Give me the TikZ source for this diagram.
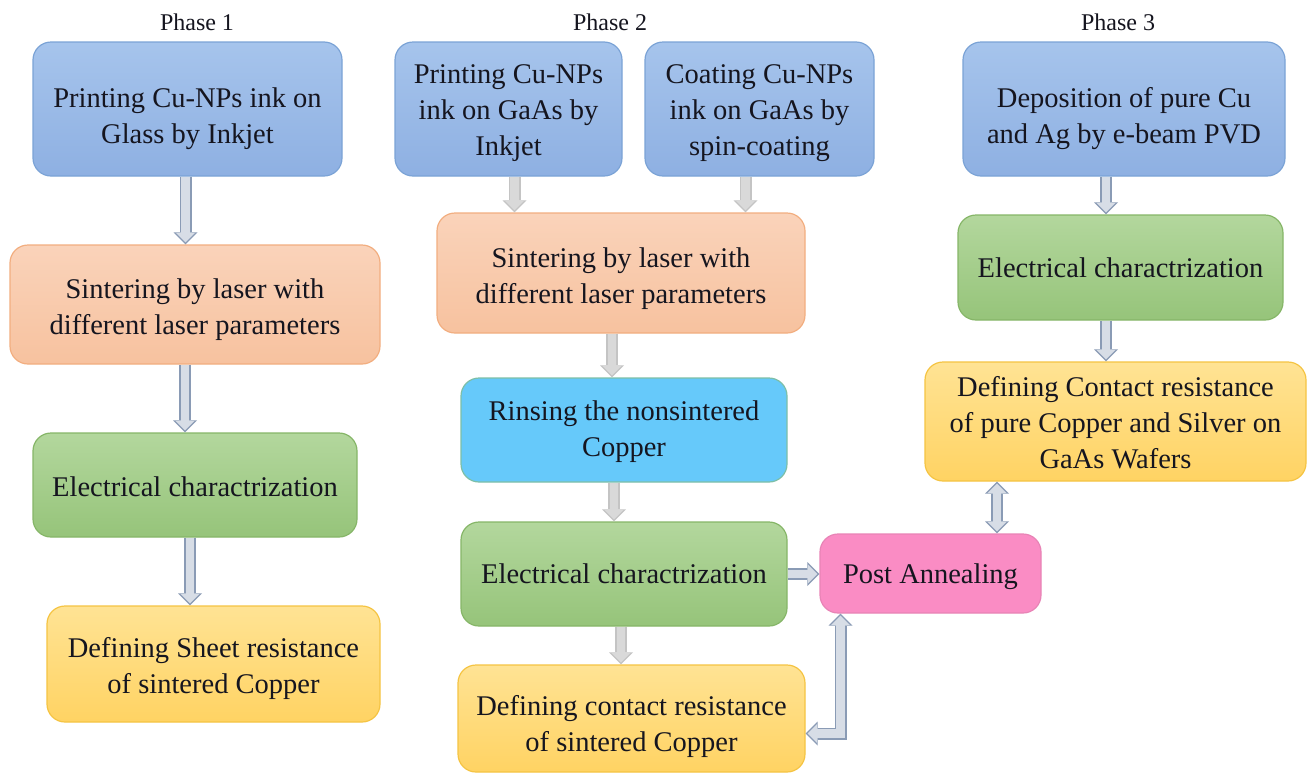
\documentclass[tikz,border=0pt]{standalone}
\usepackage{fontspec}
\setmainfont{Liberation Serif}
\usetikzlibrary{arrows.meta,calc}
\definecolor{txt}{HTML}{15151F}
\definecolor{bluetop}{HTML}{A6C4EC}
\definecolor{bluebot}{HTML}{8EB0E2}
\definecolor{blueln}{HTML}{7BA3D6}
\definecolor{orgtop}{HTML}{FAD3BA}
\definecolor{orgbot}{HTML}{F7C29F}
\definecolor{orgln}{HTML}{F2AE80}
\definecolor{grntop}{HTML}{B3D79D}
\definecolor{grnbot}{HTML}{96C47A}
\definecolor{grnln}{HTML}{86B668}
\definecolor{yeltop}{HTML}{FFE394}
\definecolor{yelbot}{HTML}{FFD363}
\definecolor{yelln}{HTML}{F5C443}
\definecolor{cyanf}{HTML}{66C9FA}
\definecolor{cyanln}{HTML}{7DBFA8}
\definecolor{pinkf}{HTML}{FA8CC4}
\definecolor{pinkln}{HTML}{E884B6}
\definecolor{arrln}{HTML}{8A9BB5}
\definecolor{arrfill}{HTML}{D7DDE6}
\definecolor{grayln}{HTML}{C4C4C4}
\definecolor{grayfill}{HTML}{D9D9D9}
\newcommand\sd[1]{\rule{0pt}{#1}}
\tikzset{
  box/.style={rounded corners=18pt, line width=1.2pt, align=center, text=txt,
    font=\fontsize{28.5}{36}\selectfont, inner sep=0pt},
  bluebox/.style={box, draw=blueln, top color=bluetop, bottom color=bluebot},
  orgbox/.style={box, draw=orgln, top color=orgtop, bottom color=orgbot},
  grnbox/.style={box, draw=grnln, top color=grntop, bottom color=grnbot},
  yelbox/.style={box, draw=yelln, top color=yeltop, bottom color=yelbot},
  cyanbox/.style={box, draw=cyanln, fill=cyanf},
  pinkbox/.style={box, draw=pinkln, fill=pinkf},
  phase/.style={text=txt, font=\fontsize{24}{28}\selectfont},
  arrout/.style={line width=12pt, draw=#1,
    -{Triangle[width=24pt,length=12pt,line width=0pt]}},
  arrin/.style={line width=8.6pt, draw=#1, shorten >=2pt,
    -{Triangle[width=19pt,length=9.5pt,line width=0pt]}},
  darrout/.style={line width=12pt, draw=#1,
    {Triangle[width=24pt,length=12pt,line width=0pt]}-{Triangle[width=24pt,length=12pt,line width=0pt]}},
  darrin/.style={line width=8.6pt, draw=#1, shorten >=2pt, shorten <=2pt,
    {Triangle[width=19pt,length=9.5pt,line width=0pt]}-{Triangle[width=19pt,length=9.5pt,line width=0pt]}},
}
\newcommand\blk[3]{\draw[arrout=#1] #3; \draw[arrin=#2] #3;}
\newcommand\dblk[3]{\draw[darrout=#1,miter limit=10] #3; \draw[darrin=#2,miter limit=10] #3;}
\begin{document}
\begin{tikzpicture}[x=1pt,y=-1pt]
\useasboundingbox (0,0) rectangle (1311,774);
\fill[white] (0,0) rectangle (1311,774);
% phase labels
\node[phase] (p1) at (197,22) {Phase 1};
\node[phase] (p2) at (610,22) {Phase 2};
\node[phase] (p3) at (1118,22) {Phase 3};
% phase 1
\node[bluebox, minimum width=309pt, minimum height=134pt] (A1) at (187.5,109) {\sd{40pt}Printing Cu-NPs ink on\\Glass by Inkjet};
\node[orgbox, minimum width=370pt, minimum height=119pt] (A2) at (195,304.5) {\sd{31pt}Sintering by laser with\\different laser parameters};
\node[grnbox, minimum width=324pt, minimum height=104pt] (A3) at (195,485) {\sd{23pt}Electrical charactrization};
\node[yelbox, minimum width=333pt, minimum height=116pt] (A4) at (213.5,664) {\sd{30pt}Defining Sheet resistance\\of sintered Copper};
% phase 2
\node[bluebox, minimum width=227pt, minimum height=134pt] (B1) at (508.5,109) {\sd{28pt}Printing Cu-NPs\\ink on GaAs by\\Inkjet};
\node[bluebox, minimum width=229pt, minimum height=134pt] (B2) at (759.5,109) {\sd{28pt}Coating Cu-NPs\\ink on GaAs by\\spin-coating};
\node[orgbox, minimum width=368pt, minimum height=120pt] (B3) at (621,273) {\sd{31pt}Sintering by laser with\\different laser parameters};
\node[cyanbox, minimum width=326pt, minimum height=104pt] (B4) at (624,430) {\sd{23pt}Rinsing the nonsintered\\Copper};
\node[grnbox, minimum width=326pt, minimum height=104pt] (B5) at (624,574) {Electrical charactrization};
\node[yelbox, minimum width=347pt, minimum height=107pt] (B6) at (631.5,718.5) {\sd{36pt}Defining contact resistance\\of sintered Copper};
\node[pinkbox, minimum width=221pt, minimum height=79pt] (PA) at (930.5,573.5) {\sd{27pt}Post Annealing};
% phase 3
\node[bluebox, minimum width=322pt, minimum height=134pt] (C1) at (1124,109) {\sd{40pt}Deposition of pure Cu\\and Ag by e-beam PVD};
\node[grnbox, minimum width=325pt, minimum height=105pt] (C2) at (1120.5,267.5) {Electrical charactrization};
\node[yelbox, minimum width=381pt, minimum height=119pt] (C3) at (1115.5,421.5) {\sd{22pt}Defining Contact resistance\\of pure Copper and Silver on\\GaAs Wafers};
% arrows phase 1
\blk{arrln}{arrfill}{([xshift=-2pt]A1.south) -- ([xshift=-2pt]A1.south |- A2.north)}
\blk{arrln}{arrfill}{([xshift=-10pt]A2.south) -- ([xshift=-10pt]A2.south |- A3.north)}
\blk{arrln}{arrfill}{([xshift=-5pt]A3.south) -- ([xshift=-5pt]A3.south |- A4.north)}
% arrows phase 2
\blk{grayln}{grayfill}{([xshift=6pt]B1.south) -- ([xshift=6pt]B1.south |- B3.north)}
\blk{grayln}{grayfill}{([xshift=-14pt]B2.south) -- ([xshift=-14pt]B2.south |- B3.north)}
\blk{grayln}{grayfill}{([xshift=-9pt]B3.south) -- ([xshift=-9pt]B3.south |- B4.north)}
\blk{grayln}{grayfill}{([xshift=-10pt]B4.south) -- ([xshift=-10pt]B4.south |- B5.north)}
\blk{grayln}{grayfill}{([xshift=-3pt]B5.south) -- ([xshift=-3pt]B5.south |- B6.north)}
\blk{arrln}{arrfill}{(B5.east) -- (B5.east -| PA.west)}
\dblk{arrln}{arrfill}{([xshift=-90pt]PA.south) |- ([yshift=-15pt]B6.east)}
% arrows phase 3
\blk{arrln}{arrfill}{([xshift=-18pt]C1.south) -- ([xshift=-18pt]C1.south |- C2.north)}
\blk{arrln}{arrfill}{([xshift=-14.5pt]C2.south) -- ([xshift=-14.5pt]C2.south |- C3.north)}
\dblk{arrln}{arrfill}{([xshift=-118.5pt]C3.south) -- ([xshift=-118.5pt]C3.south |- PA.north)}
\end{tikzpicture}
\end{document}
